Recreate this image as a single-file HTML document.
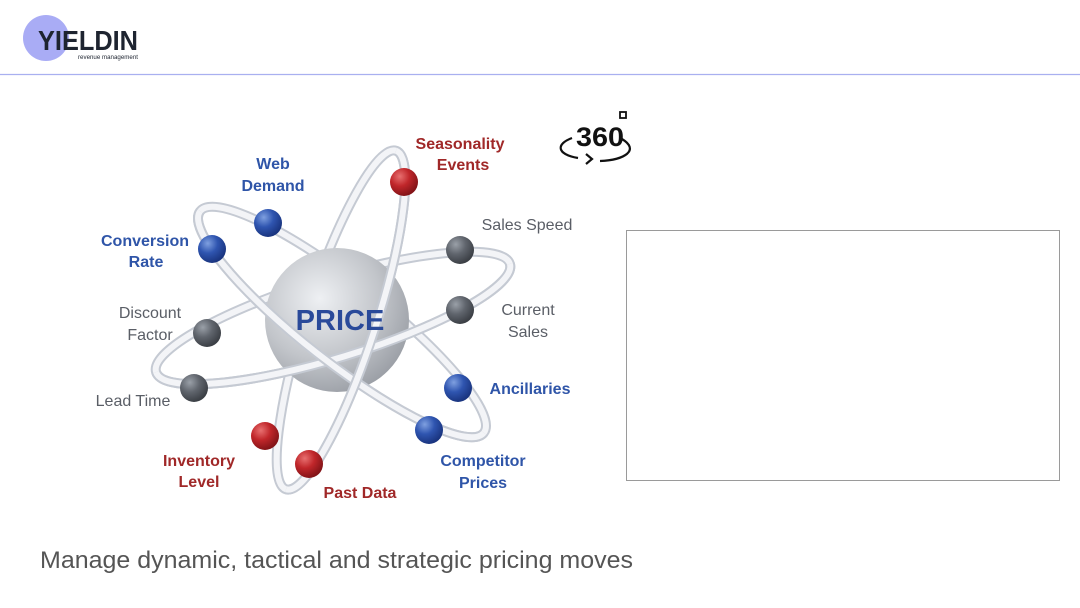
<!DOCTYPE html>
<html><head><meta charset="utf-8"><style>
html,body{margin:0;padding:0;background:#fff;}
svg{display:block;font-family:"Liberation Sans",sans-serif;}
</style></head><body>
<svg width="1080" height="608" viewBox="0 0 1080 608">
<defs>
<radialGradient id="gSph" cx="0.38" cy="0.35" r="0.7"><stop offset="0" stop-color="#eef0f3"/><stop offset="0.6" stop-color="#c2c5ca"/><stop offset="1" stop-color="#9a9ea5"/></radialGradient>
<radialGradient id="gB" cx="0.35" cy="0.3" r="0.7"><stop offset="0" stop-color="#7fa0e0"/><stop offset="0.5" stop-color="#2f55b0"/><stop offset="1" stop-color="#1a3580"/></radialGradient>
<radialGradient id="gR" cx="0.35" cy="0.3" r="0.7"><stop offset="0" stop-color="#e87070"/><stop offset="0.5" stop-color="#c0262a"/><stop offset="1" stop-color="#841418"/></radialGradient>
<radialGradient id="gG" cx="0.35" cy="0.3" r="0.7"><stop offset="0" stop-color="#9aa0a8"/><stop offset="0.5" stop-color="#60656d"/><stop offset="1" stop-color="#3c4046"/></radialGradient>
<clipPath id="c1" clipPathUnits="userSpaceOnUse"><rect x="100" y="318" width="500" height="100"/></clipPath>
<clipPath id="c2" clipPathUnits="userSpaceOnUse"><rect x="100" y="322" width="500" height="100"/></clipPath>
<clipPath id="c3" clipPathUnits="userSpaceOnUse"><rect x="100" y="320" width="500" height="100"/></clipPath>
</defs>
<g>
<circle cx="46" cy="38" r="23" fill="#a9acf5"/>
<text x="38" y="50" font-size="28" font-weight="bold" fill="#1e2430" textLength="100" lengthAdjust="spacingAndGlyphs">YIELDIN</text>
<text x="78" y="59" font-size="6.5" fill="#1e2430" textLength="60" lengthAdjust="spacingAndGlyphs">revenue management</text>
</g>
<line x1="0" y1="74.5" x2="1080" y2="74.5" stroke="#a9b0f0" stroke-width="1.2"/>
<g fill="none">
<g transform="rotate(-17 333 318)"><ellipse cx="333" cy="318" rx="185" ry="40" stroke="#c5cad3" stroke-width="10"/><ellipse cx="333" cy="318" rx="185" ry="40" stroke="#f3f4f7" stroke-width="6"/></g>
<g transform="rotate(38 342 322)"><ellipse cx="342" cy="322" rx="180" ry="40" stroke="#c5cad3" stroke-width="10"/><ellipse cx="342" cy="322" rx="180" ry="40" stroke="#f3f4f7" stroke-width="6"/></g>
<g transform="rotate(-72 341 320)"><ellipse cx="341" cy="320" rx="178" ry="35" stroke="#c5cad3" stroke-width="10"/><ellipse cx="341" cy="320" rx="178" ry="35" stroke="#f3f4f7" stroke-width="6"/></g>
</g>
<circle cx="337" cy="320" r="72" fill="url(#gSph)"/>
<g fill="none">
<g transform="rotate(-17 333 318)"><g clip-path="url(#c1)"><ellipse cx="333" cy="318" rx="185" ry="40" stroke="#c5cad3" stroke-width="10"/><ellipse cx="333" cy="318" rx="185" ry="40" stroke="#f3f4f7" stroke-width="6"/></g></g>
<g transform="rotate(38 342 322)"><g clip-path="url(#c2)"><ellipse cx="342" cy="322" rx="180" ry="40" stroke="#c5cad3" stroke-width="10"/><ellipse cx="342" cy="322" rx="180" ry="40" stroke="#f3f4f7" stroke-width="6"/></g></g>
<g transform="rotate(-72 341 320)"><g clip-path="url(#c3)"><ellipse cx="341" cy="320" rx="178" ry="35" stroke="#c5cad3" stroke-width="10"/><ellipse cx="341" cy="320" rx="178" ry="35" stroke="#f3f4f7" stroke-width="6"/></g></g>
</g>
<text x="340" y="330" font-size="29" fill="#2a4a9a" font-weight="bold" text-anchor="middle">PRICE</text>
<g>
<circle cx="404" cy="182" r="14" fill="url(#gR)"/>
<circle cx="268" cy="223" r="14" fill="url(#gB)"/>
<circle cx="212" cy="249" r="14" fill="url(#gB)"/>
<circle cx="460" cy="250" r="14" fill="url(#gG)"/>
<circle cx="460" cy="310" r="14" fill="url(#gG)"/>
<circle cx="207" cy="333" r="14" fill="url(#gG)"/>
<circle cx="194" cy="388" r="14" fill="url(#gG)"/>
<circle cx="458" cy="388" r="14" fill="url(#gB)"/>
<circle cx="429" cy="430" r="14" fill="url(#gB)"/>
<circle cx="265" cy="436" r="14" fill="url(#gR)"/>
<circle cx="309" cy="464" r="14" fill="url(#gR)"/>
</g>
<g font-size="16" font-weight="bold">
<text x="460" y="149" fill="#a02828" text-anchor="middle">Seasonality</text>
<text x="463" y="170" fill="#a02828" text-anchor="middle">Events</text>
<text x="273" y="169" fill="#2f55a8" text-anchor="middle">Web</text>
<text x="273" y="191" fill="#2f55a8" text-anchor="middle">Demand</text>
<text x="145" y="246" fill="#2f55a8" text-anchor="middle">Conversion</text>
<text x="146" y="267" fill="#2f55a8" text-anchor="middle">Rate</text>
<text x="527" y="230" fill="#5a5e66" text-anchor="middle" font-weight="normal">Sales Speed</text>
<text x="528" y="315" fill="#5a5e66" text-anchor="middle" font-weight="normal">Current</text>
<text x="528" y="337" fill="#5a5e66" text-anchor="middle" font-weight="normal">Sales</text>
<text x="150" y="318" fill="#5a5e66" text-anchor="middle" font-weight="normal">Discount</text>
<text x="150" y="340" fill="#5a5e66" text-anchor="middle" font-weight="normal">Factor</text>
<text x="133" y="406" fill="#5a5e66" text-anchor="middle" font-weight="normal">Lead Time</text>
<text x="530" y="394" fill="#2f55a8" text-anchor="middle">Ancillaries</text>
<text x="483" y="466" fill="#2f55a8" text-anchor="middle">Competitor</text>
<text x="483" y="488" fill="#2f55a8" text-anchor="middle">Prices</text>
<text x="199" y="466" fill="#a02828" text-anchor="middle">Inventory</text>
<text x="199" y="487" fill="#a02828" text-anchor="middle">Level</text>
<text x="360" y="498" fill="#a02828" text-anchor="middle">Past Data</text>
</g>
<g stroke="#111" fill="none" stroke-width="2.2">
<path d="M572 138 C556 144 556 154 578 158"/>
<path d="M600 161 C625 160 640 150 622 139"/>
<path d="M586 154 L592 159 L586 164"/>
<rect x="620" y="112" width="6" height="6" stroke-width="1.8"/>
<text x="600" y="146" font-size="27" font-weight="bold" fill="#111" stroke="none" text-anchor="middle" textLength="48" lengthAdjust="spacingAndGlyphs">360</text>
</g>
<rect x="626.5" y="230.5" width="433" height="250" fill="#fff" stroke="#9a9a9a" stroke-width="1"/>
<text x="40" y="568" font-size="24" fill="#555" textLength="593" lengthAdjust="spacingAndGlyphs">Manage dynamic, tactical and strategic pricing moves</text>
</svg>
</body></html>
